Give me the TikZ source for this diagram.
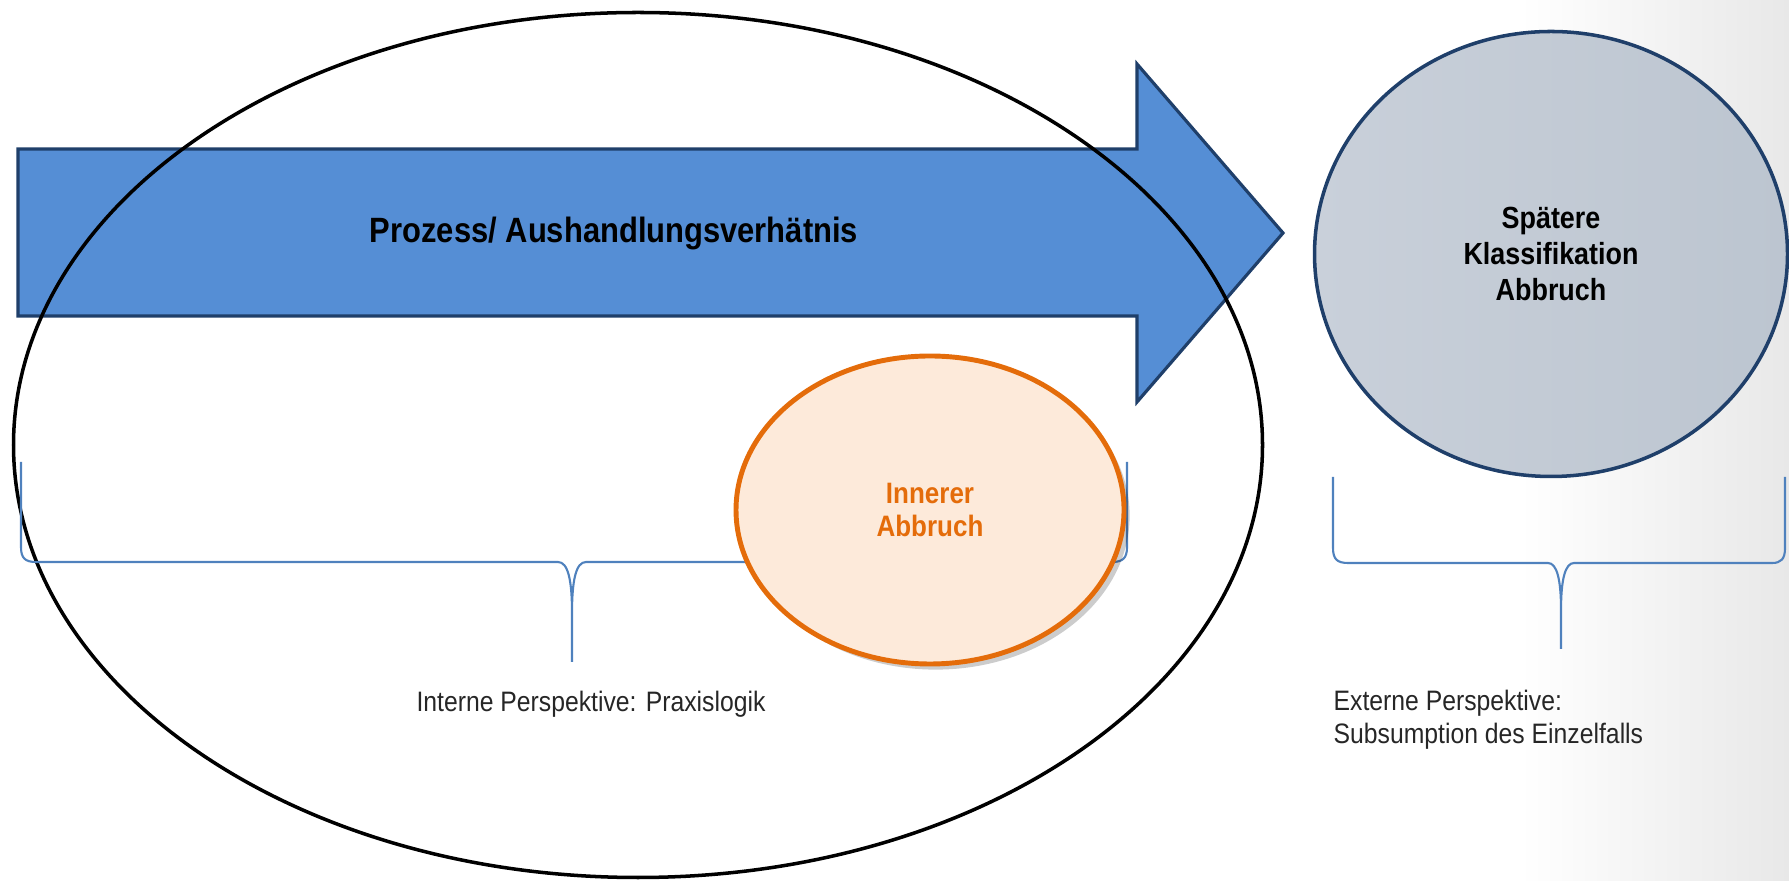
\documentclass[tikz,border=0pt]{standalone}
\usepackage{fontspec}
\setmainfont{Liberation Sans}[FakeStretch=0.88]
\usetikzlibrary{shapes.geometric,shadows}

\definecolor{arrowblue}{HTML}{558ED5}
\definecolor{navyline}{HTML}{1F3F6A}
\definecolor{slateleft}{HTML}{C9D0DA}
\definecolor{slateright}{HTML}{BCC5D0}
\definecolor{innerline}{HTML}{E46C0A}
\definecolor{innerfill}{HTML}{FDEADA}
\definecolor{braceblue}{HTML}{4F81BD}

\tikzset{
  procarrow/.style={fill=arrowblue, draw=navyline, line width=0.9pt, line join=miter},
  arrowtext/.style={font=\fontsize{10}{12}\selectfont\bfseries},
  praxis/.style={ellipse, draw=black, line width=1pt, inner sep=0pt,
    minimum width=124.9mm, minimum height=86.5mm},
  extern/.style={ellipse, draw=navyline, line width=1pt, inner sep=0pt,
    left color=slateleft, right color=slateright,
    minimum width=47.3mm, minimum height=44.5mm, align=center,
    font=\fontsize{8.7}{10.2}\selectfont\bfseries},
  inner/.style={ellipse, draw=innerline, line width=1.4pt, fill=innerfill, inner sep=0pt,
    minimum width=38.8mm, minimum height=30.8mm, align=center, text=innerline,
    font=\fontsize{8.4}{9.4}\selectfont\bfseries,
    drop shadow={shadow xshift=1.6pt, shadow yshift=-1.6pt, fill=black, opacity=0.2}},
  perspbrace/.style={draw=braceblue, line width=0.6pt},
  persplabel/.style={font=\fontsize{8}{9.4}\selectfont, text=black!85, inner sep=0pt}
}

\begin{document}
\begin{tikzpicture}[x=0.1mm, y=-0.1mm]
  \useasboundingbox (0,0) rectangle (1789,881);
  % grey fade at the right border
  \shade[left color=white, right color=black!9] (1520,0) rectangle (1789,881);

  % process arrow
  \draw[procarrow] (18,149) -- (1137,149) -- (1137,64) -- (1283,233)
    -- (1137,402) -- (1137,316) -- (18,316) -- cycle;
  \node[arrowtext] (prozess) at (614,234) {Prozess/ Aushandlungsverhätnis};

  % internal perspective
  \node[praxis] (praxis) at (638,445) {};
  \draw[perspbrace] (21,462) -- (21,547) .. controls (21,558) and (25,562) .. (36,562)
    -- (558,562) .. controls (568,562) and (572,580) .. (572,613) -- (572,662)
    (572,613) .. controls (572,580) and (576,562) .. (586,562)
    -- (1112,562) .. controls (1123,562) and (1127,558) .. (1127,547) -- (1127,462);
  \node[inner] (innerer) at (930,510) {Innerer\\Abbruch};
  \node[persplabel] (intern) at (591,704) {Interne Perspektive: Praxislogik};

  % external perspective
  \node[extern] (spaeter) at (1551,254) {Spätere\\Klassifikation\\Abbruch};
  \draw[perspbrace] (1333,477) -- (1333,548) .. controls (1333,559) and (1337,563) .. (1348,563)
    -- (1548,563) .. controls (1557,563) and (1561,580) .. (1561,610) -- (1561,649)
    (1561,610) .. controls (1561,580) and (1565,563) .. (1574,563)
    -- (1772,563) .. controls (1781,563) and (1785,559) .. (1785,548) -- (1785,477);
  \node[persplabel, anchor=west, align=left] (extlabel) at (1333,720)
    {Externe Perspektive:\\Subsumption des Einzelfalls};
\end{tikzpicture}
\end{document}
